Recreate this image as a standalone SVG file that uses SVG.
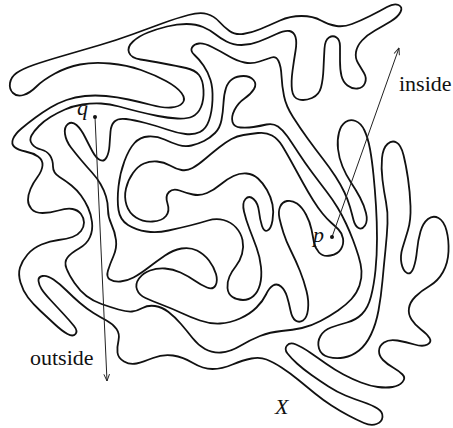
<svg xmlns="http://www.w3.org/2000/svg" width="453" height="428" viewBox="0 0 453 428">
<style>
.curve{fill:none;stroke:#111;stroke-width:1.8;stroke-linejoin:round;stroke-linecap:round}
.arrow{fill:none;stroke:#222;stroke-width:1}
.lbl{font-family:"Liberation Serif","DejaVu Serif",serif;font-size:22px;fill:#111}
.it{font-style:italic}
</style>
<defs>
<marker id="ah" viewBox="0 0 10 10" refX="9.5" refY="5" markerWidth="8" markerHeight="8" markerUnits="userSpaceOnUse" orient="auto">
<path d="M1,1.5 L9.5,5 L1,8.5" fill="none" stroke="#222" stroke-width="1.2"/>
</marker>
</defs>
<g id="jordan-curve">
<path class="curve" d="M13,93 Q9,89 10,83 Q11,77 16.5,73 Q22,69 33.5,65 Q45,61 64,55.5 Q83,50 100,45 Q117,40 132,34.5 Q147,29 162,23.5 Q177,18 188.5,15 Q200,12 207,14 Q214,16 219,21.5 Q224,27 229.5,31 Q235,35 243,34 Q251,33 260.5,29 Q270,25 280,20.5 Q290,16 301.5,16 Q313,16 321,20.5 Q329,25 336.5,26 Q344,27 352,24 Q360,21 370,16 Q380,11 387,7 Q394,3 398.5,5 Q403,7 400.5,12 Q398,17 390.5,21.5 Q383,26 375,30.5 Q367,35 362,40.5 Q357,46 356,52 Q355,58 358,63 Q361,68 364,73 Q367,78 365,83 Q363,88 357.5,88.5 Q352,89 347.5,85.5 Q343,82 341.5,76 Q340,70 340,61 Q340,52 340,46 Q340,40 336.5,37.5 Q333,35 329,37.5 Q325,40 324.5,48.5 Q324,57 323.5,68.5 Q323,80 321,87.5 Q319,95 312,98 Q305,101 299,99.5 Q293,98 292,90 Q291,82 292.5,71 Q294,60 295.5,51 Q297,42 295.5,37 Q294,32 289.5,31 Q285,30 276.5,34 Q268,38 259,41.5 Q250,45 241.5,45 Q233,45 226.5,41.5 Q220,38 215,34 Q210,30 203,27 Q196,24 186.5,24 Q177,24 167,26.5 Q157,29 148,32.5 Q139,36 133,41.5 Q127,47 129,52.5 Q131,58 140.5,59.5 Q150,61 163.5,63.5 Q177,66 186,68 Q195,70 199,75 Q203,80 203.5,90 Q204,100 201,107 Q198,114 192.5,116.5 Q187,119 177.5,118.5 Q168,118 158,116 Q148,114 138,111.5 Q128,109 119,106.5 Q110,104 101,103.5 Q92,103 82.5,104.5 Q73,106 65,109.5 Q57,113 50.5,117 Q44,121 39,126 Q34,131 31.5,135.5 Q29,140 32,144 Q35,148 41,149.5 Q47,151 50,155.5 Q53,160 53,166.5 Q53,173 59.5,177 Q66,181 71.5,185.5 Q77,190 81,195.5 Q85,201 88,207.5 Q91,214 92,222 Q93,230 90,237 Q87,244 79,248.5 Q71,253 67.5,257.5 Q64,262 66.5,268.5 Q69,275 74.5,283 Q80,291 86.5,296 Q93,301 101.5,304 Q110,307 118.5,309.5 Q127,312 132,311.5 Q137,311 142.5,308 Q148,305 155,306 Q162,307 168.5,312 Q175,317 181,324 Q187,331 192.5,338 Q198,345 205,349 Q212,353 221,352.5 Q230,352 240,346 Q250,340 260,336 Q270,332 281.5,331 Q293,330 302,328 Q311,326 320.5,321 Q330,316 338,310.5 Q346,305 351.5,299 Q357,293 359.5,285.5 Q362,278 361.5,271 Q361,264 358.5,256 Q356,248 353,240 Q350,232 346,223.5 Q342,215 337.5,207.5 Q333,200 326.5,191.5 Q320,183 312.5,173 Q305,163 298.5,153 Q292,143 287.5,136.5 Q283,130 278,126.5 Q273,123 266.5,124.5 Q260,126 253.5,127 Q247,128 240.5,127.5 Q234,127 232.5,122 Q231,117 234.5,110 Q238,103 244.5,98.5 Q251,94 254,89 Q257,84 253.5,80 Q250,76 243.5,76 Q237,76 232.5,79 Q228,82 226,88 Q224,94 223.5,103 Q223,112 221.5,120 Q220,128 215,133 Q210,138 204,141 Q198,144 191.5,145.5 Q185,147 178.5,145 Q172,143 164.5,139.5 Q157,136 148.5,136.5 Q140,137 134.5,143 Q129,149 124.5,161 Q120,173 118.5,186.5 Q117,200 118.5,210 Q120,220 128,225 Q136,230 146.5,231.5 Q157,233 168.5,230.5 Q180,228 190,225.5 Q200,223 208,220.5 Q216,218 223.5,220 Q231,222 236,227.5 Q241,233 242.5,240 Q244,247 242,254 Q240,261 236,266 Q232,271 229.5,276.5 Q227,282 227.5,288 Q228,294 232.5,297 Q237,300 243,300 Q249,300 253.5,296 Q258,292 260,284.5 Q262,277 261,267 Q260,257 256.5,247.5 Q253,238 249.5,229 Q246,220 244,211.5 Q242,203 245.5,199 Q249,195 253.5,199 Q258,203 259,211.5 Q260,220 262,226 Q264,232 267.5,230.5 Q271,229 272.5,220.5 Q274,212 272.5,204.5 Q271,197 267,190 Q263,183 258,178.5 Q253,174 246.5,173.5 Q240,173 233.5,176 Q227,179 220.5,184.5 Q214,190 207,193 Q200,196 193,194.5 Q186,193 179.5,190.5 Q173,188 169,192 Q165,196 167.5,203.5 Q170,211 166,216 Q162,221 152.5,221.5 Q143,222 136,217.5 Q129,213 126.5,205 Q124,197 126,188.5 Q128,180 133,173 Q138,166 144,163.5 Q150,161 157,161.5 Q164,162 170,165.5 Q176,169 181.5,170 Q187,171 192.5,168 Q198,165 205,159 Q212,153 219,147.5 Q226,142 231.5,139 Q237,136 243.5,135 Q250,134 258,133 Q266,132 272,135.5 Q278,139 282,145.5 Q286,152 291.5,162 Q297,172 302.5,182 Q308,192 313,200 Q318,208 322.5,213.5 Q327,219 331,222.5 Q335,226 338.5,229.5 Q342,233 343,238.5 Q344,244 341,249 Q338,254 330.5,255.5 Q323,257 319,252.5 Q315,248 314,242.5 Q313,237 311.5,229.5 Q310,222 306,214.5 Q302,207 297,203.5 Q292,200 287,201 Q282,202 280,207 Q278,212 279.5,218.5 Q281,225 283.5,233 Q286,241 291,251 Q296,261 300,271 Q304,281 306.5,291 Q309,301 308,309.5 Q307,318 303,320.5 Q299,323 295.5,320.5 Q292,318 290.5,310.5 Q289,303 287,296.5 Q285,290 281,286.5 Q277,283 273,285.5 Q269,288 266,294.5 Q263,301 256.5,307.5 Q250,314 240,318.5 Q230,323 220,323.5 Q210,324 200,320.5 Q190,317 181.5,313 Q173,309 162.5,305 Q152,301 145.5,298 Q139,295 137,289.5 Q135,284 139,278.5 Q143,273 150,270.5 Q157,268 165,268.5 Q173,269 180.5,272.5 Q188,276 194.5,280.5 Q201,285 207,287.5 Q213,290 215.5,285.5 Q218,281 216,274 Q214,267 209,260.5 Q204,254 197,250.5 Q190,247 181.5,248.5 Q173,250 165,255.5 Q157,261 148.5,267.5 Q140,274 133.5,277.5 Q127,281 120.5,281.5 Q114,282 110,279.5 Q106,277 108,270.5 Q110,264 113.5,256 Q117,248 116,240 Q115,232 111.5,224.5 Q108,217 108,210 Q108,203 106,196.5 Q104,190 100.5,184 Q97,178 92,172.5 Q87,167 81.5,160.5 Q76,154 71,147.5 Q66,141 65,134 Q64,127 68,124 Q72,121 76.5,125 Q81,129 85,137 Q89,145 92.5,151.5 Q96,158 100,160 Q104,162 106.5,157.5 Q109,153 109.5,145.5 Q110,138 110.5,131.5 Q111,125 114.5,121.5 Q118,118 126,119 Q134,120 145.5,123 Q157,126 167,129.5 Q177,133 185.5,134 Q194,135 200,132 Q206,129 209,120.5 Q212,112 212.5,100 Q213,88 210.5,80 Q208,72 203.5,65.5 Q199,59 194.5,55 Q190,51 192,47.5 Q194,44 199,43.5 Q204,43 212,47 Q220,51 228.5,56 Q237,61 244.5,62.5 Q252,64 259.5,61.5 Q267,59 271.5,57.5 Q276,56 278.5,61 Q281,66 281.5,76 Q282,86 284,96 Q286,106 293,117 Q300,128 308,139 Q316,150 323,159 Q330,168 335.5,176.5 Q341,185 344.5,192.5 Q348,200 350,207 Q352,214 353.5,220 Q355,226 358.5,228 Q362,230 365,225.5 Q368,221 366,213 Q364,205 360,197.5 Q356,190 351,182.5 Q346,175 342.5,166.5 Q339,158 338,149 Q337,140 339,132.5 Q341,125 345.5,122 Q350,119 355.5,121 Q361,123 364.5,130.5 Q368,138 370,149 Q372,160 373.5,175 Q375,190 376,206 Q377,222 377,238.5 Q377,255 375.5,270 Q374,285 371,296.5 Q368,308 362,314 Q356,320 347,322.5 Q338,325 331,327.5 Q324,330 320.5,336 Q317,342 319,348.5 Q321,355 328.5,357 Q336,359 344,357.5 Q352,356 359,350.5 Q366,345 371,334.5 Q376,324 378.5,310.5 Q381,297 382.5,280.5 Q384,264 385.5,249.5 Q387,235 387.5,223.5 Q388,212 386,202 Q384,192 382.5,180 Q381,168 382,158 Q383,148 387.5,144 Q392,140 396.5,142.5 Q401,145 403.5,155 Q406,165 408,178.5 Q410,192 410.5,206 Q411,220 408,230 Q405,240 402.5,248 Q400,256 401.5,263.5 Q403,271 407,273 Q411,275 413.5,268 Q416,261 417,250.5 Q418,240 420.5,231.5 Q423,223 428,219 Q433,215 438.5,218 Q444,221 446.5,230.5 Q449,240 448.5,251.5 Q448,263 443,272 Q438,281 429.5,286 Q421,291 415.5,296.5 Q410,302 409,308 Q408,314 411.5,319.5 Q415,325 421,329.5 Q427,334 429.5,338 Q432,342 427.5,344.5 Q423,347 414.5,344.5 Q406,342 397.5,340.5 Q389,339 384,342.5 Q379,346 379,351 Q379,356 383,360 Q387,364 393,367.5 Q399,371 402.5,374.5 Q406,378 402.5,382 Q399,386 392.5,387 Q386,388 378,387 Q370,386 361,382.5 Q352,379 343.5,374.5 Q335,370 326.5,364 Q318,358 310,352.5 Q302,347 296,344.5 Q290,342 287,345.5 Q284,349 287.5,353.5 Q291,358 297,363.5 Q303,369 311.5,375 Q320,381 328.5,386.5 Q337,392 345.5,395.5 Q354,399 363,402 Q372,405 377.5,408.5 Q383,412 382.5,417 Q382,422 376.5,424 Q371,426 364,423 Q357,420 348.5,415.5 Q340,411 331.5,405.5 Q323,400 315,393.5 Q307,387 298.5,380 Q290,373 281.5,367.5 Q273,362 266.5,359.5 Q260,357 251.5,358.5 Q243,360 232.5,364.5 Q222,369 212.5,369 Q203,369 193,363 Q183,357 173,355.5 Q163,354 153,358 Q143,362 136.5,363.5 Q130,365 124,361.5 Q118,358 117.5,352.5 Q117,347 118.5,340.5 Q120,334 116.5,329 Q113,324 106.5,320.5 Q100,317 93.5,313 Q87,309 80,303 Q73,297 66.5,290.5 Q60,284 53.5,279.5 Q47,275 42.5,276 Q38,277 38.5,281 Q39,285 41.5,289 Q44,293 50.5,300 Q57,307 63.5,314 Q70,321 74,326 Q78,331 75.5,334 Q73,337 67.5,334 Q62,331 54.5,324 Q47,317 40,310.5 Q33,304 28,297.5 Q23,291 20.5,282.5 Q18,274 20,267.5 Q22,261 27.5,254.5 Q33,248 41.5,244.5 Q50,241 58.5,240 Q67,239 72.5,237 Q78,235 81,231 Q84,227 84,222.5 Q84,218 81,214 Q78,210 72.5,209 Q67,208 58.5,210.5 Q50,213 42.5,213 Q35,213 31.5,209 Q28,205 28,200 Q28,195 30.5,189 Q33,183 37.5,177 Q42,171 42.5,165.5 Q43,160 38,156.5 Q33,153 25.5,151.5 Q18,150 14.5,147 Q11,144 13,139 Q15,134 21.5,128.5 Q28,123 35.5,117.5 Q43,112 50.5,107.5 Q58,103 66.5,100 Q75,97 85,96 Q95,95 106,96 Q117,97 128.5,99.5 Q140,102 151.5,105 Q163,108 171,107.5 Q179,107 182.5,103 Q186,99 181.5,93 Q177,87 166,81 Q155,75 141,70 Q127,65 110,63.5 Q93,62 80,64.5 Q67,67 55,73.5 Q43,80 36.5,86.5 Q30,93 23.5,95 Q17,97 13,93 Z"/>
</g>
<g id="connectors">
<line id="arrow-outside" class="arrow" x1="95" y1="117" x2="107" y2="381" marker-end="url(#ah)"/>
<line id="arrow-inside" class="arrow" x1="332" y1="237" x2="399" y2="48" marker-end="url(#ah)"/>
</g>
<g id="point-q">
<circle cx="95" cy="117" r="2" fill="#111"/>
<text class="lbl it" x="77" y="115">q</text>
</g>
<g id="point-p">
<circle cx="332" cy="237" r="2" fill="#111"/>
<text class="lbl it" x="313" y="242">p</text>
</g>
<g id="labels">
<text class="lbl" x="399" y="91">inside</text>
<text class="lbl" x="30" y="365">outside</text>
<text class="lbl it" x="275" y="414">X</text>
</g>
</svg>
